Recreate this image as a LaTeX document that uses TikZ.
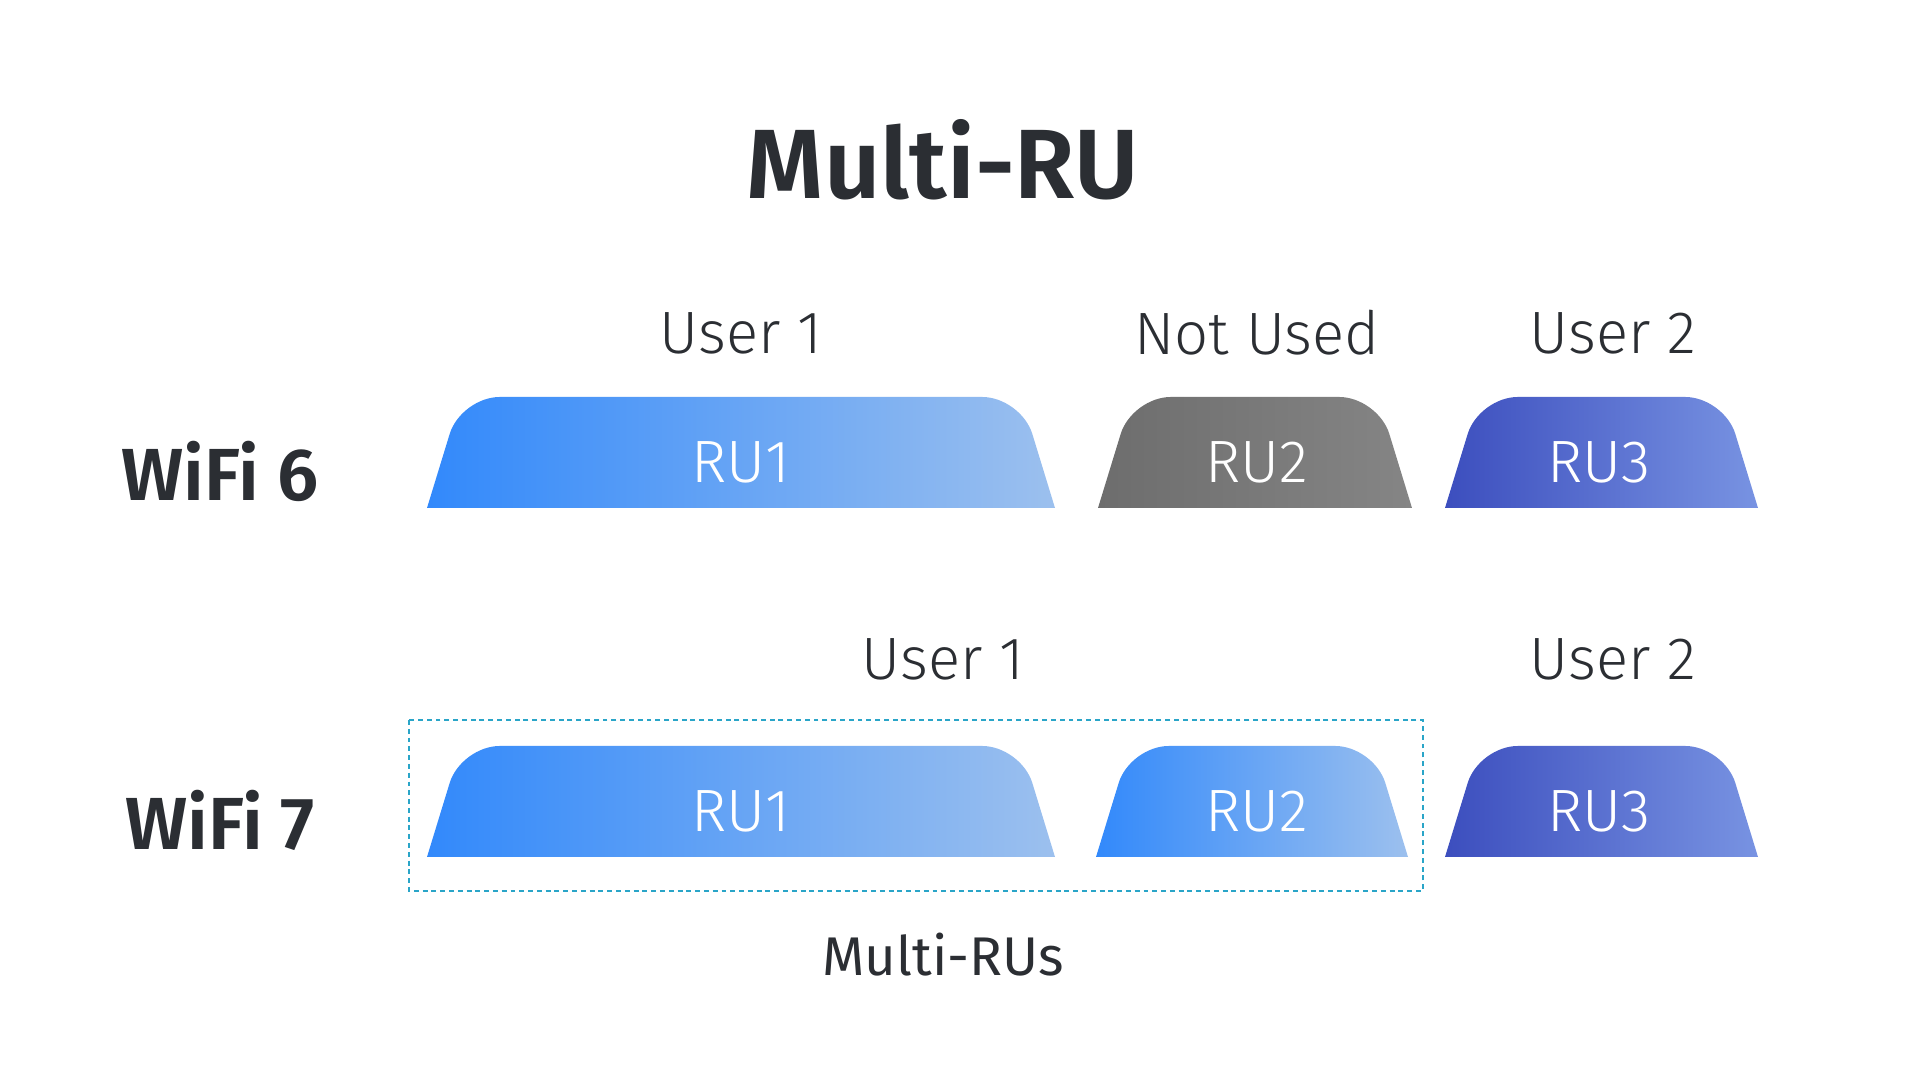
\documentclass[tikz,border=0pt]{standalone}
\usepackage{fontspec}
\setmainfont{Fira Sans}[UprightFont=* Light,BoldFont=* SemiBold]
\newfontfamily\regfont{Fira Sans}
\usepackage{tikz}
\definecolor{ink}{HTML}{2B2E33}
\definecolor{blueA}{HTML}{3289FB}
\definecolor{blueB}{HTML}{9CC0EE}
\definecolor{grayA}{HTML}{6D6D6D}
\definecolor{grayB}{HTML}{858585}
\definecolor{indA}{HTML}{3C4EBE}
\definecolor{indB}{HTML}{7893E2}
\definecolor{dashline}{HTML}{2AA5C8}

\begin{document}
\begin{tikzpicture}[x=.01cm,y=-.01cm,
 every node/.style={text=ink,inner sep=0pt},
 title/.style={font=\fontsize{28}{32}\selectfont\bfseries},
 rowlabel/.style={font=\fontsize{21}{24}\selectfont\bfseries},
 user/.style={font=\fontsize{17}{20}\selectfont},
 rutext/.style={text=white,font=\fontsize{17}{20}\selectfont},
 bluefill/.style={left color=blueA,right color=blueB},
 grayfill/.style={left color=grayA,right color=grayB},
 indfill/.style={left color=indA,right color=indB},
 groupbox/.style={draw=dashline,line width=.45pt,dash pattern=on 1.4pt off 1.1pt}]
\useasboundingbox (0,0) rectangle (1920,1080);
\node[title] (title) at (943,160) {Multi-RU};
% WiFi 6
\node[rowlabel] (wifi6) at (220,471) {WiFi 6};
\path[bluefill] (427,508) [rounded corners=11pt] -- (461,397) -- (1021,397) [sharp corners] -- (1055,508) -- cycle;
\path[grayfill] (1098,508) [rounded corners=11pt] -- (1132,397) -- (1378,397) [sharp corners] -- (1412,508) -- cycle;
\path[indfill] (1445,508) [rounded corners=11pt] -- (1479,397) -- (1724,397) [sharp corners] -- (1758,508) -- cycle;
\node[rutext] (ru1a) at (741,462) {RU1};
\node[rutext] (ru2a) at (1257,462) {RU2};
\node[rutext] (ru3a) at (1599,462) {RU3};
\node[user] (user1a) at (741,333) {User 1};
\node[user] (unused) at (1257,333) {Not Used};
\node[user] (user2a) at (1613,333) {User 2};
% WiFi 7
\node[rowlabel] (wifi7) at (220,820) {WiFi 7};
\draw[groupbox] (409,720) rectangle (1423,891);
\path[bluefill] (427,857) [rounded corners=11pt] -- (461,746) -- (1021,746) [sharp corners] -- (1055,857) -- cycle;
\path[bluefill] (1096,857) [rounded corners=11pt] -- (1130,746) -- (1374,746) [sharp corners] -- (1408,857) -- cycle;
\path[indfill] (1445,857) [rounded corners=11pt] -- (1479,746) -- (1724,746) [sharp corners] -- (1758,857) -- cycle;
\node[rutext] (ru1b) at (741,811) {RU1};
\node[rutext] (ru2b) at (1257,811) {RU2};
\node[rutext] (ru3b) at (1599,811) {RU3};
\node[user] (user1b) at (943,659) {User 1};
\node[user] (user2b) at (1613,659) {User 2};
\node[font=\regfont\fontsize{15.5}{18}\selectfont] (multirus) at (943,955) {Multi-RUs};
\end{tikzpicture}
\end{document}
